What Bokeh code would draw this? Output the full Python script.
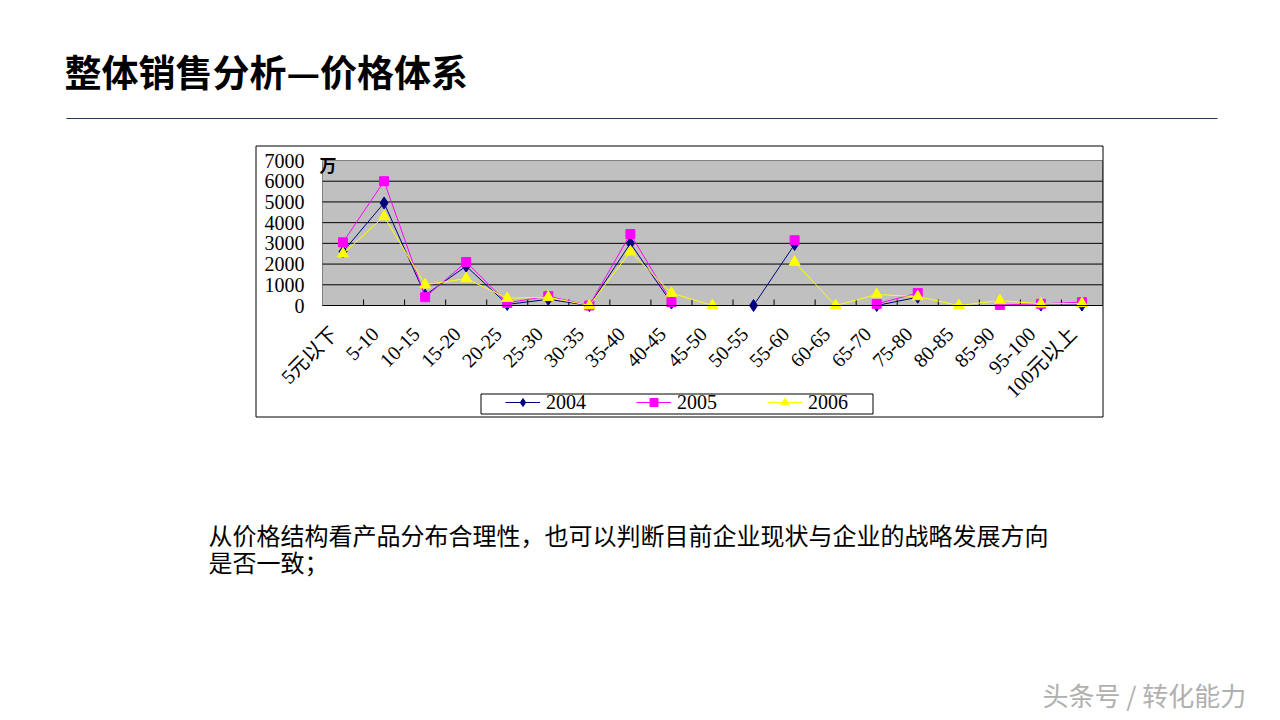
import math
from bokeh.plotting import figure
from bokeh.models import (Range1d, LinearAxis, FixedTicker, Label, Legend, LegendItem)
from bokeh.embed import file_html
from bokeh.resources import INLINE

nan = float("nan")

# ---------------- data ----------------
categories = ["5元以下", "5-10", "10-15", "15-20", "20-25", "25-30", "30-35", "35-40",
              "40-45", "45-50", "50-55", "55-60", "60-65", "65-70", "75-80", "80-85",
              "85-90", "95-100", "100元以上"]
s2004 = [2600, 4950, 500, 1900, 50, 300, 0, 3000, 120, nan, 0, 2950, nan, 0, 400, nan, nan, 20, 20]
s2005 = [3050, 6000, 400, 2100, 130, 450, 0, 3450, 160, nan, nan, 3150, nan, 80, 600, nan, 30, 80, 160]
s2006 = [2500, 4300, 1000, 1300, 350, 400, 0, 2600, 600, 0, nan, 2100, 0, 530, 430, 0, 240, 80, 100]
series_names = ["2004", "2005", "2006"]
y_ticks = [0, 1000, 2000, 3000, 4000, 5000, 6000, 7000]

title_text = "整体销售分析—价格体系"
unit_text = "万"
para_lines = ["从价格结构看产品分布合理性，也可以判断目前企业现状与企业的战略发展方向", "是否一致；"]
watermark = "头条号 / 转化能力"

# ---------------- layout constants (page pixels) ----------------
FIG_W, FIG_H = 1272, 712
PLOT_L, PLOT_R, PLOT_T, PLOT_B = 322, 1102, 160, 305
LABEL_SHIFT = 9  # px the rotated category labels sit left of the slot centre
YMAX = y_ticks[-1]
n = len(categories)
xpos = list(range(n))
slot = (PLOT_R - PLOT_L) / n
vpp = YMAX / (PLOT_B - PLOT_T)

SERIF = "Liberation Serif, Noto Sans CJK SC"
CJK = "Noto Sans CJK SC"

p = figure(width=FIG_W, height=FIG_H, x_range=Range1d(0, FIG_W), y_range=Range1d(FIG_H, 0),
           x_axis_type=None, y_axis_type=None, min_border=0,
           output_backend="svg", toolbar_location=None,
           background_fill_color="white", border_fill_color="white", outline_line_color=None)
cat_lo = -0.5 - PLOT_L / slot
cat_hi = -0.5 + (FIG_W - PLOT_L) / slot
d = LABEL_SHIFT / slot
p.extra_x_ranges = {"cat": Range1d(cat_lo, cat_hi), "lab": Range1d(cat_lo + d, cat_hi + d)}
p.extra_y_ranges = {"val": Range1d((PLOT_B - FIG_H) * vpp, PLOT_B * vpp)}

C = dict(x_range_name="cat", y_range_name="val")

# plot area + gridlines
p.quad(left=[-0.5], right=[n - 0.5], bottom=[0], top=[YMAX], fill_color="#C0C0C0",
       line_color="#808080", line_width=1, **C)
grid_vals = y_ticks[1:-1]
p.segment(x0=[-0.5] * len(grid_vals), x1=[n - 0.5] * len(grid_vals), y0=grid_vals, y1=grid_vals,
          line_color="black", line_width=1, **C)

# category boundary tick marks (pointing up into the plot, 6 px)
bounds_x = [i + 0.5 for i in range(n - 1)]
p.segment(x0=bounds_x, x1=bounds_x, y0=[0] * len(bounds_x), y1=[6 * vpp] * len(bounds_x),
          line_color="black", line_width=1, **C)

# axes
yax = LinearAxis(fixed_location=-0.5, bounds=(0, YMAX), ticker=FixedTicker(ticks=y_ticks),
                 axis_line_color=None, major_tick_line_color=None, minor_tick_line_color=None,
                 major_label_text_font=SERIF, major_label_text_font_size="20px",
                 major_label_text_color="black", major_label_standoff=12, **C)
p.add_layout(yax, "left")

xline = LinearAxis(fixed_location=0, bounds=(-0.5, n - 0.5), ticker=FixedTicker(ticks=[]),
                   axis_line_color="black", major_tick_line_color=None,
                   minor_tick_line_color=None, **C)
p.add_layout(xline, "below")

cax = LinearAxis(fixed_location=0, bounds=(-0.5, n - 0.5), ticker=FixedTicker(ticks=xpos),
                 major_label_overrides={i: c for i, c in zip(xpos, categories)},
                 major_label_orientation=math.pi / 4, axis_line_color=None,
                 major_tick_line_color=None, minor_tick_line_color=None,
                 major_label_text_font=SERIF, major_label_text_font_size="20px",
                 major_label_text_color="black", major_label_standoff=19,
                 x_range_name="lab", y_range_name="val")
p.add_layout(cax, "below")

# series
colors = ["#000080", "#FF00FF", "#FFFF00"]
markers = ["diamond", "square", "triangle"]
sizes = [12, 9, 11]
items = []
for name, vals, c, m, s in zip(series_names, [s2004, s2005, s2006], colors, markers, sizes):
    lr = p.line(xpos, vals, line_color=c, line_width=1, **C)
    sr = p.scatter(xpos, vals, marker=m, size=s, fill_color=c, line_color=c, **C)
    items.append(LegendItem(label=name, renderers=[lr, sr]))

# chart outer box and legend box (page pixels)
p.quad(left=[255.5], right=[1102.5], top=[145.5], bottom=[416.5], fill_color=None,
       line_color="black", line_width=1)
p.quad(left=[480.5], right=[872.5], top=[393.5], bottom=[413.5], fill_color="white",
       line_color="black", line_width=1)
legend = Legend(items=items, orientation="horizontal", location=(505, FIG_H - 413.5),
                glyph_width=35, glyph_height=20, label_height=20, label_standoff=6,
                spacing=50, padding=0, margin=0, border_line_color=None,
                background_fill_alpha=0, label_text_font=SERIF,
                label_text_font_size="20px", label_text_color="black")
p.add_layout(legend)

# title rule
p.segment(x0=[66], x1=[1217], y0=[118], y1=[118], line_color="#203A5A", line_width=1.2)


def lab(x, y, text, size, font=CJK, style="normal", color="black"):
    p.add_layout(Label(x=x, y=y, text=text, text_font=font, text_font_size=size,
                       text_font_style=style, text_color=color, text_align="left",
                       text_baseline="middle"))


lab(64, 70, title_text, "37px", style="bold")
lab(319, 164, unit_text, "17px", style="bold")
lab(208, 534, para_lines[0], "24px")
lab(208, 561, para_lines[1], "24px")
lab(1042, 694, watermark, "26px", color="#b0b0b0")

open("out.html", "w").write(file_html(p, INLINE))
